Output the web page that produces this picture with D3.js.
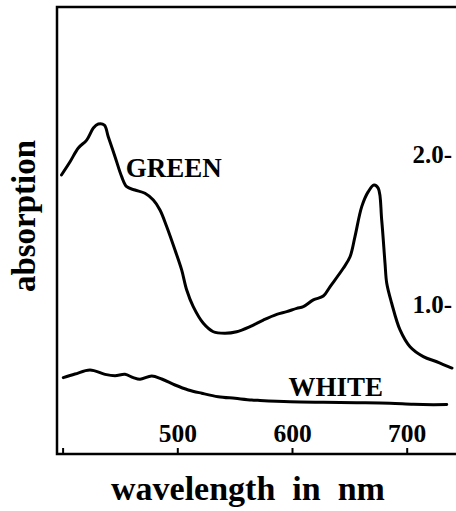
<!DOCTYPE html>
<html>
<head>
<meta charset="utf-8">
<script src="https://cdn.jsdelivr.net/npm/d3@7"></script>
<style>
    body { margin: 0; background: #fff; }
    svg text { font-family: "Liberation Serif", "Times New Roman", serif; font-weight: bold; fill: #000; }
</style>
</head>
<body>
<div id="chart-view"></div>
<script>

// Wavelength (nm) and absorption
const greenWavelength = [399, 406.5, 413.7, 421, 426.8, 431.1, 436.4, 439.8, 445.7, 451.5, 455.9, 463.1, 471.8, 479.1, 484.9, 490.8, 498, 503.8, 508.2, 513.9, 522.7, 531.4, 541.6, 551.8, 563.4, 575, 586.7, 595.4, 604.1, 609.9, 618.6, 627.3, 633.1, 644.7, 650.6, 654.9, 660.8, 666.5, 671.5, 675.2, 678.2, 681.1, 682.6, 686.9, 694.2, 702.9, 714.5, 726.2, 736.3, 739.5];
const greenAbsorption = [1.86, 1.948, 2.04, 2.093, 2.173, 2.2, 2.193, 2.115, 1.982, 1.849, 1.782, 1.76, 1.738, 1.693, 1.627, 1.515, 1.36, 1.227, 1.093, 0.982, 0.871, 0.815, 0.805, 0.815, 0.849, 0.893, 0.931, 0.949, 0.971, 0.982, 1.027, 1.053, 1.115, 1.238, 1.315, 1.449, 1.649, 1.749, 1.793, 1.771, 1.56, 1.271, 1.138, 1.005, 0.827, 0.715, 0.649, 0.615, 0.582, 0.573];

const whiteWavelength = [400.6, 410.8, 423.9, 437, 445.7, 454.4, 461.6, 467.5, 477.7, 486.4, 498, 509.6, 521.3, 535.7, 550.3, 564.9, 572.1, 598.3, 627.3, 656.4, 685.4, 705.8, 723.2, 734.9];
const whiteAbsorption = [0.509, 0.533, 0.56, 0.531, 0.522, 0.531, 0.509, 0.498, 0.52, 0.5, 0.46, 0.427, 0.405, 0.382, 0.371, 0.36, 0.357, 0.349, 0.345, 0.342, 0.338, 0.331, 0.329, 0.33];

const xTicks = [400, 500, 600, 700];
const xTickLabels = ["", "500", "600", "700"];
const yTicks = [1, 2];
const yTickLabels = ["1.0-", "2.0-"];

// Curve name labels, placed at (wavelength, absorption)
const curveNames = ["GREEN", "WHITE"];
const curveNameAt = [[455, 1.85], [597, 0.387]];

class Spectrum {
    constructor() {
        this.width = 456;
        this.height = 511;
        this.left = 57;
        this.top = 7;
        this.bottom = 454;

        this.x = d3.scaleLinear().domain([400, 700]).range([62.6, 406.7]);
        this.y = d3.scaleLinear().domain([0, 1]).range([this.bottom, this.bottom - 150]);

        this.svg = d3.select("#chart-view").append("svg")
            .attr("width", this.width)
            .attr("height", this.height);
    }

    // Box on left, top and bottom only
    drawFrame() {
        let s = this.svg;
        s.append("path")
            .attr("d", `M${this.width},${this.top}H${this.left}V${this.bottom}H${this.width}`)
            .attr("fill", "none")
            .attr("stroke", "#000")
            .attr("stroke-width", 2.5);
    }

    drawAxes() {
        // wavelength ticks point up, labels sit inside the box
        let xAxis = d3.axisTop(this.x)
            .tickValues(xTicks)
            .tickSize(6)
            .tickPadding(6)
            .tickFormat((d, i) => xTickLabels[i]);

        let gx = this.svg.append("g")
            .attr("transform", `translate(0,${this.bottom})`)
            .call(xAxis);
        gx.select(".domain").remove();
        gx.selectAll(".tick line").attr("stroke", "#000").attr("stroke-width", 2);
        gx.selectAll("text").attr("font-size", 25.5);

        // absorption labels on the right, dash included
        let yAxis = d3.axisLeft(this.y)
            .tickValues(yTicks)
            .tickSize(0)
            .tickPadding(0)
            .tickFormat((d, i) => yTickLabels[i]);

        let gy = this.svg.append("g")
            .attr("transform", "translate(452,0)")
            .call(yAxis);
        gy.select(".domain").remove();
        gy.selectAll("text").attr("font-size", 25);

        // axis titles
        this.svg.append("text")
            .attr("x", 248)
            .attr("y", 500)
            .attr("text-anchor", "middle")
            .attr("font-size", 34)
            .attr("xml:space", "preserve")
            .text("wavelength  in  nm");

        this.svg.append("text")
            .attr("transform", "translate(35,216) rotate(-90)")
            .attr("text-anchor", "middle")
            .attr("font-size", 33)
            .text("absorption");
    }

    drawCurves() {
        let that = this;
        let line = d3.line()
            .x(d => that.x(d[0]))
            .y(d => that.y(d[1]))
            .curve(d3.curveCatmullRom);

        let series = [
            d3.zip(greenWavelength, greenAbsorption),
            d3.zip(whiteWavelength, whiteAbsorption)
        ];

        this.svg.append("g").selectAll("path")
            .data(series)
            .enter().append("path")
            .attr("d", line)
            .attr("fill", "none")
            .attr("stroke", "#000")
            .attr("stroke-width", 3)
            .attr("stroke-linejoin", "round")
            .attr("stroke-linecap", "round");

        this.svg.append("g").selectAll("text")
            .data(curveNames)
            .enter().append("text")
            .attr("x", (d, i) => that.x(curveNameAt[i][0]))
            .attr("y", (d, i) => that.y(curveNameAt[i][1]))
            .attr("font-size", 27)
            .text(d => d);
    }
}

let chart = new Spectrum();
chart.drawFrame();
chart.drawAxes();
chart.drawCurves();

</script>
</body>
</html>
